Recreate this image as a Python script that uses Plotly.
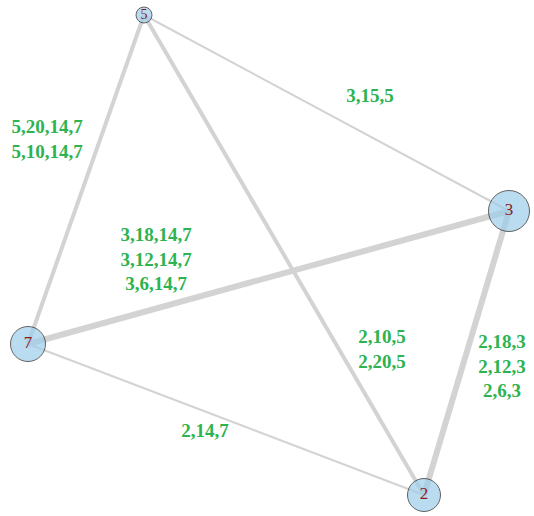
import plotly.graph_objects as go

# Nodes
node_names = ["5", "3", "7", "2"]
node_x = [144, 509, 28, 424]
node_y = [15, 211, 344, 495]
node_size = [16, 41, 35, 33]

# Edges (source, target) and their labels
edge_src = ["5", "5", "5", "7", "7", "3"]
edge_dst = ["7", "3", "2", "3", "2", "2"]
edge_labels = [
    ["5,20,14,7", "5,10,14,7"],
    ["3,15,5"],
    ["2,10,5", "2,20,5"],
    ["3,18,14,7", "3,12,14,7", "3,6,14,7"],
    ["2,14,7"],
    ["2,18,3", "2,12,3", "2,6,3"],
]
label_x = [47, 370, 382, 156, 205, 502]
label_y = [141, 97, 351, 261, 432, 368]

pos = {n: (x, y) for n, x, y in zip(node_names, node_x, node_y)}

fig = go.Figure()
for s, d, labs in zip(edge_src, edge_dst, edge_labels):
    x0, y0 = pos[s]
    x1, y1 = pos[d]
    fig.add_trace(go.Scatter(x=[x0, x1], y=[y0, y1], mode="lines",
                             line=dict(color="#D3D3D3", width=2 * len(labs)),
                             cliponaxis=False,
                             hoverinfo="skip", showlegend=False))

fig.add_trace(go.Scatter(
    x=label_x, y=label_y, mode="text",
    text=["<br>".join(l) for l in edge_labels],
    textposition="middle center",
    textfont=dict(family="Liberation Serif", size=19, color="#2DB34F", weight="bold"),
    cliponaxis=False,
    hoverinfo="skip", showlegend=False))

fig.add_trace(go.Scatter(
    x=node_x, y=node_y, mode="markers+text",
    text=node_names, textposition="middle center",
    marker=dict(size=node_size, color="#9DCEEA", line=dict(color="#222222", width=1)),
    textfont=dict(family="Liberation Serif", size=[14, 17, 17, 17], color="#8B1A1A"),
    cliponaxis=False,
    hoverinfo="skip", showlegend=False))

fig.update_layout(
    width=534, height=516,
    margin=dict(l=0, r=0, t=0, b=0),
    paper_bgcolor="white", plot_bgcolor="white",
    xaxis=dict(range=[0, 534], visible=False, fixedrange=True),
    yaxis=dict(range=[516, 0], visible=False, fixedrange=True),
)

fig.write_html("out.html",
               config={"displayModeBar": False},
               post_script="document.body.style.margin='0px';document.body.style.overflow='hidden';")
